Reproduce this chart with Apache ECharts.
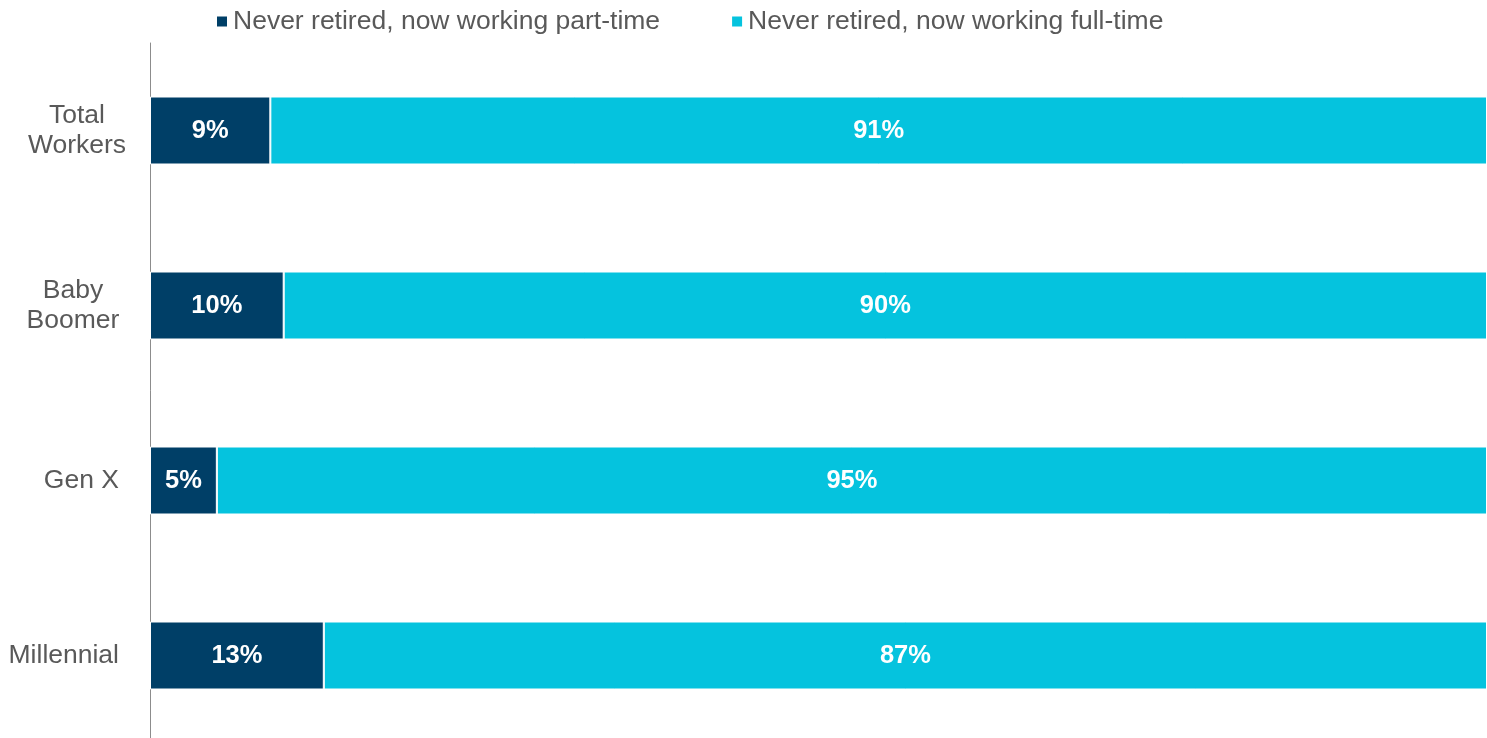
<!DOCTYPE html>
<html>
<head>
<meta charset="utf-8">
<script src="https://cdn.jsdelivr.net/npm/echarts@6/dist/echarts.min.js"></script>
<style>
  html, body { margin: 0; padding: 0; background: #fff; }
  #chart { width: 1487px; height: 738px; }
</style>
</head>
<body>
<div id="chart"></div>
<script>
// data
var categories = ['Total\nWorkers', 'Baby\nBoomer', 'Gen X', 'Millennial'];
var partTime = [9, 10, 5, 13];
var fullTime = [91, 90, 95, 87];
var seriesNames = ['Never retired, now working part-time', 'Never retired, now working full-time'];

var FONT = '"Liberation Sans", Arial, sans-serif';
var FS = 26.5;
var LH = 30;

var chart = echarts.init(document.getElementById('chart'));

function barLabel() {
    return {
        show: true,
        position: 'inside',
        color: '#fff',
        fontFamily: FONT,
        fontWeight: 'bold',
        fontSize: 25.5,
        formatter: '{c}%'
    };
}

// label styles: two-line labels are centred in their own block, blocks hug the axis
var richLabel = {
    w1: { width: 100, align: 'center', color: '#595959', fontFamily: FONT, fontSize: FS, lineHeight: LH },
    w2: { width: 92, align: 'center', padding: [0, 8, 0, 0], color: '#595959', fontFamily: FONT, fontSize: FS, lineHeight: LH },
    s: { padding: [0, 8, 0, 0], color: '#595959', fontFamily: FONT, fontSize: FS, lineHeight: LH }
};

var option = {
    animation: false,
    color: ['#003F67', '#05C3DE'],
    legend: {
        top: 3,
        left: 212,
        itemWidth: 10,
        itemHeight: 10,
        itemGap: 72,
        icon: 'rect',
        itemStyle: { borderWidth: 0 },
        textStyle: { color: '#595959', fontFamily: FONT, fontSize: FS, padding: [0, 0, 0, 1] },
        data: seriesNames
    },
    grid: { left: 150, right: 0, top: 43, height: 700, outerBoundsMode: 'none' },
    xAxis: {
        type: 'value',
        min: 0,
        max: 100,
        show: false
    },
    yAxis: {
        type: 'category',
        inverse: true,
        data: categories,
        axisLine: { show: true, lineStyle: { color: '#8C8C8C', width: 1 } },
        axisTick: { show: false },
        axisLabel: {
            margin: 23,
            align: 'right',
            color: '#595959',
            fontFamily: FONT,
            fontSize: FS,
            lineHeight: LH,
            formatter: function (v) {
                var lines = v.split('\n');
                if (lines.length === 1) return '{s|' + v + '}';
                var key = v.indexOf('Workers') >= 0 ? 'w1' : 'w2';
                return lines.map(function (l) { return '{' + key + '|' + l + '}'; }).join('\n');
            },
            rich: richLabel
        }
    },
    series: [
        {
            name: seriesNames[0],
            type: 'bar',
            stack: 'total',
            barWidth: 68,
            data: partTime,
            label: barLabel(),
            itemStyle: { borderColor: '#fff', borderWidth: 1 }
        },
        {
            name: seriesNames[1],
            type: 'bar',
            stack: 'total',
            barWidth: 68,
            data: fullTime,
            label: barLabel(),
            itemStyle: { borderColor: '#fff', borderWidth: 1 }
        }
    ]
};

chart.setOption(option);
</script>
</body>
</html>
